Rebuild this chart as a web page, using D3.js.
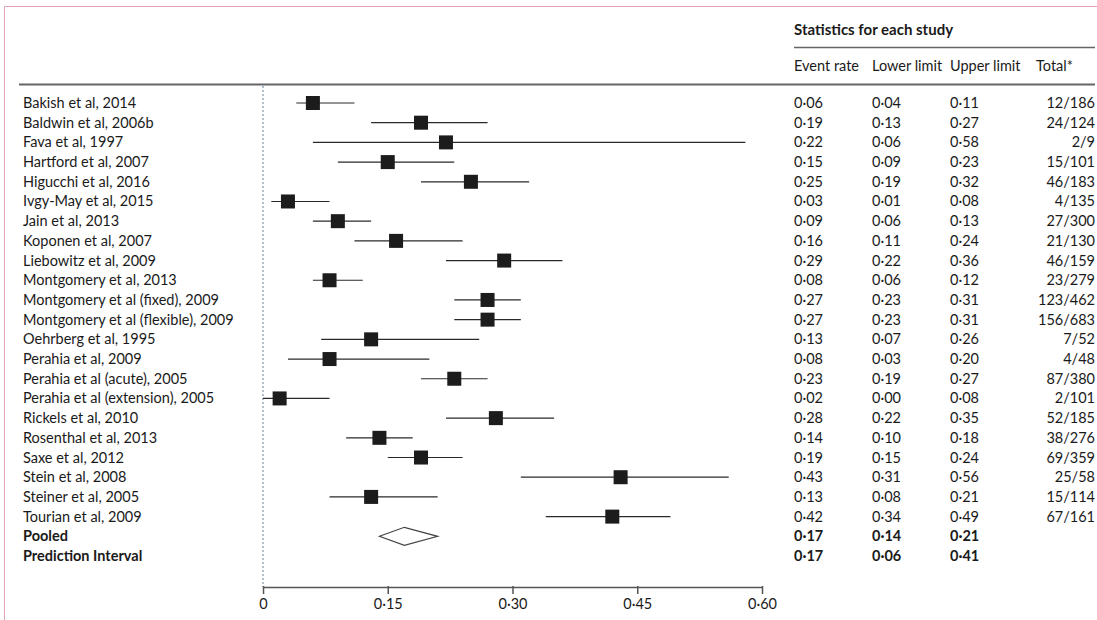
<!DOCTYPE html>
<html>
<head>
<meta charset="utf-8">
<script src="https://cdn.jsdelivr.net/npm/d3@7"></script>
<style>
  html, body { margin: 0; padding: 0; background: #fff; }
  svg { display: block; }
  text { font-family: Lato, "Open Sans", sans-serif; fill: #1a1a1a; }
</style>
</head>
<body>
<svg id="chart" width="1097" height="620"></svg>
<script>
// Study-level proportions with 95% limits and event counts
const studies = [
  "Bakish et al, 2014", "Baldwin et al, 2006b", "Fava et al, 1997", "Hartford et al, 2007",
  "Higucchi et al, 2016", "Ivgy-May et al, 2015", "Jain et al, 2013", "Koponen et al, 2007",
  "Liebowitz et al, 2009", "Montgomery et al, 2013", "Montgomery et al (fixed), 2009",
  "Montgomery et al (flexible), 2009", "Oehrberg et al, 1995", "Perahia et al, 2009",
  "Perahia et al (acute), 2005", "Perahia et al (extension), 2005", "Rickels et al, 2010",
  "Rosenthal et al, 2013", "Saxe et al, 2012", "Stein et al, 2008", "Steiner et al, 2005",
  "Tourian et al, 2009"
];
const eventRate = [0.06, 0.19, 0.22, 0.15, 0.25, 0.03, 0.09, 0.16, 0.29, 0.08, 0.27, 0.27,
                   0.13, 0.08, 0.23, 0.02, 0.28, 0.14, 0.19, 0.43, 0.13, 0.42];
const lowerLimit = [0.04, 0.13, 0.06, 0.09, 0.19, 0.01, 0.06, 0.11, 0.22, 0.06, 0.23, 0.23,
                    0.07, 0.03, 0.19, 0.00, 0.22, 0.10, 0.15, 0.31, 0.08, 0.34];
const upperLimit = [0.11, 0.27, 0.58, 0.23, 0.32, 0.08, 0.13, 0.24, 0.36, 0.12, 0.31, 0.31,
                    0.26, 0.20, 0.27, 0.08, 0.35, 0.18, 0.24, 0.56, 0.21, 0.49];
const totals = ["12/186", "24/124", "2/9", "15/101", "46/183", "4/135", "27/300", "21/130",
                "46/159", "23/279", "123/462", "156/683", "7/52", "4/48", "87/380", "2/101",
                "52/185", "38/276", "69/359", "25/58", "15/114", "67/161"];

// Summary rows
const summaryLabels = ["Pooled", "Prediction Interval"];
const summaryRate = [0.17, 0.17];
const summaryLower = [0.14, 0.06];
const summaryUpper = [0.21, 0.41];

const xTicks = [0, 0.15, 0.30, 0.45, 0.60];
const columnHeaders = ["Event rate", "Lower limit", "Upper limit", "Total*"];
const tableTitle = "Statistics for each study";

const svg = d3.select("#chart");
const fmtNum = v => d3.format(".2f")(v).replace(".", "\u00B7");
const fmtTick = v => v === 0 ? "0" : fmtNum(v);
const FS = 14.5;

const x = d3.scaleLinear().domain([0, 0.60]).range([263, 762]);
const nRows = studies.length + summaryLabels.length;
const y = d3.scaleLinear().domain([0, nRows - 1]).range([103, 556]);

// outer frame
svg.append("path")
  .attr("d", "M4.5,620 V6.5 H1097")
  .attr("fill", "none").attr("stroke", "#e3a3b3").attr("stroke-width", 1);

// header rules
svg.append("line").attr("x1", 19).attr("x2", 1095).attr("y1", 84.5).attr("y2", 84.5)
  .attr("stroke", "#666").attr("stroke-width", 2);
svg.append("line").attr("x1", 794).attr("x2", 1095).attr("y1", 47.5).attr("y2", 47.5)
  .attr("stroke", "#666").attr("stroke-width", 1.6);

svg.append("text").attr("x", 794).attr("y", 35)
  .attr("font-size", 15).attr("font-weight", "bold").text(tableTitle);

const colX = [794, 872, 950, 1095];
columnHeaders.forEach((h, i) => {
  svg.append("text")
    .attr("x", i === 3 ? 1036 : colX[i]).attr("y", 71)
    .attr("font-size", FS).text(h);
});

// null line
svg.append("line").attr("x1", x(0)).attr("x2", x(0)).attr("y1", 86).attr("y2", 587)
  .attr("stroke", "#8a9db0").attr("stroke-width", 1.3).attr("stroke-dasharray", "2,2");

// axis
const axis = d3.axisBottom(x).tickValues(xTicks).tickFormat(fmtTick).tickSizeInner(7).tickSizeOuter(0);
const gAxis = svg.append("g").attr("transform", "translate(0,587)").call(axis);
gAxis.select(".domain").attr("stroke", "#555").attr("stroke-width", 1.5);
gAxis.selectAll(".tick line").attr("stroke", "#555").attr("stroke-width", 1.5)
  .attr("y1", -1).attr("y2", 7);
gAxis.selectAll(".tick text").attr("font-size", FS).attr("font-family", "Lato, sans-serif")
  .attr("fill", "#1a1a1a").attr("dy", "0.85em");

// study rows
const rows = studies.map((s, i) => ({
  label: s, rate: eventRate[i], lo: lowerLimit[i], hi: upperLimit[i], total: totals[i], i
}));

const gRows = svg.append("g");
rows.forEach(r => {
  const cy = y(r.i);
  gRows.append("text").attr("x", 23).attr("y", cy + 5).attr("font-size", FS).text(r.label);
  gRows.append("line").attr("x1", x(r.lo)).attr("x2", x(r.hi)).attr("y1", cy).attr("y2", cy)
    .attr("stroke", "#2a2a2a").attr("stroke-width", 1.2);
  gRows.append("rect").attr("x", x(r.rate) - 7).attr("y", cy - 7).attr("width", 14).attr("height", 14)
    .attr("fill", "#1c1c1c");
  [r.rate, r.lo, r.hi].forEach((v, k) => {
    gRows.append("text").attr("x", colX[k]).attr("y", cy + 5).attr("font-size", FS).text(fmtNum(v));
  });
  gRows.append("text").attr("x", colX[3]).attr("y", cy + 5).attr("font-size", FS)
    .attr("text-anchor", "end").text(r.total);
});

// summary rows
summaryLabels.forEach((lab, j) => {
  const cy = y(studies.length + j);
  svg.append("text").attr("x", 23).attr("y", cy + 5).attr("font-size", FS)
    .attr("font-weight", "bold").text(lab);
  [summaryRate[j], summaryLower[j], summaryUpper[j]].forEach((v, k) => {
    svg.append("text").attr("x", colX[k]).attr("y", cy + 5).attr("font-size", FS)
      .attr("font-weight", "bold").text(fmtNum(v));
  });
});

// pooled estimate diamond
const pcy = y(studies.length);
svg.append("path")
  .attr("d", `M${x(summaryLower[0])},${pcy} L${x(summaryRate[0])},${pcy - 9} L${x(summaryUpper[0])},${pcy} L${x(summaryRate[0])},${pcy + 9} Z`)
  .attr("fill", "#fff").attr("stroke", "#444").attr("stroke-width", 1.2);
</script>
</body>
</html>
